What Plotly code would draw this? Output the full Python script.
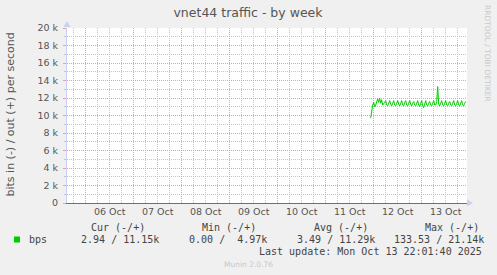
import plotly.graph_objects as go
import pandas as pd

# ---------------- data ----------------
series_name = "bps"
series_start = "2025-10-11 22:30"
series_step = "30min"
bps_out = [
    9700, 10600, 11200, 11500, 11000, 11200, 11600, 11900, 11500, 11950,
    11400, 11800, 11200, 11300, 11500, 11700, 11200, 11100, 11400, 11700,
    11300, 11100, 11400, 11700, 11200, 11100, 11400, 11700, 11300, 11100,
    11400, 11700, 11200, 11100, 11500, 11700, 11200, 11100, 11400, 11700,
    11300, 11100, 11400, 11600, 11200, 11100, 11400, 11700, 11200, 11000,
    11400, 11700, 11100, 10900, 11300, 11700, 11200, 11100, 11400, 11600,
    11200, 11100, 11400, 11700, 11200, 11200, 11600, 13300, 11300, 11100,
    11400, 11700, 11200, 11100, 11400, 11700, 11200, 11100, 11400, 11600,
    11200, 11100, 11400, 11700, 11200, 11100, 11400, 11700, 11200, 11100,
    11400, 11700, 11200, 11100, 11400, 11600,
]
x_range = ["2025-10-05 14:39", "2025-10-13 22:39"]
y_tickvals = [0, 2000, 4000, 6000, 8000, 10000, 12000, 14000, 16000, 18000, 20000]
y_ticktext = ["0", "2 k", "4 k", "6 k", "8 k", "10 k", "12 k", "14 k", "16 k", "18 k", "20 k"]
title_text = "vnet44 traffic - by week"
y_title = "bits in (-) / out (+) per second"
side_text = "RRDTOOL / TOBI OETIKER"
legend_headers = ["Cur (-/+)", "Min (-/+)", "Avg (-/+)", "Max (-/+)"]
legend_values = ["  2.94 / 11.15k", "  0.00 /  4.97k", "  3.49 / 11.29k", "133.53 / 21.14k"]
last_update = "Last update: Mon Oct 13 22:01:40 2025"
version_text = "Munin 2.0.76"

# ---------------- layout helpers ----------------
W, H = 497, 275
L, R, T, B = 67, 30, 28, 72
PW, PH = W - L - R, H - T - B


def px(x):
    return (x - L) / PW


def py(y):
    return (H - B - y) / PH


def nb(s):
    return s.replace(" ", "\u00a0")


times = pd.date_range(series_start, periods=len(bps_out), freq=series_step)

fig = go.Figure()
fig.add_trace(go.Scatter(
    x=times, y=bps_out, mode="lines",
    line=dict(color="#00cc00", width=1), showlegend=False, hoverinfo="skip",
))

grid_red = "#eaa0a0"
grid_grey = "#c4c4c4"
txt = "#555555"

fig.update_layout(
    width=W, height=H,
    margin=dict(l=L, r=R, t=T, b=B, pad=0),
    paper_bgcolor="#f0f0f0",
    plot_bgcolor="#ffffff",
    font=dict(family="DejaVu Sans", color=txt, size=9.5),
    title=dict(text=title_text, x=248 / W, xref="container", xanchor="center",
               y=1 - 13 / H, yref="container", yanchor="middle",
               font=dict(family="DejaVu Sans", size=12.5, color=txt)),
    xaxis=dict(
        type="date", range=x_range,
        tick0="2025-10-06 00:00", dtick=86400000,
        ticklabelmode="period", tickformat="%d %b",
        showgrid=True, gridcolor=grid_red, griddash="1px,1px", gridwidth=1,
        minor=dict(dtick=6 * 3600 * 1000, tick0="2025-10-06 00:00",
                   showgrid=True, gridcolor=grid_grey, griddash="1px,1px", gridwidth=1),
        showline=True, linecolor="#707080", linewidth=1,
        ticks="", zeroline=False,
        tickfont=dict(size=9.5, color=txt),
        fixedrange=True,
    ),
    yaxis=dict(
        range=[0, 20000],
        tickvals=y_tickvals, ticktext=y_ticktext,
        showgrid=True, gridcolor=grid_red, griddash="1px,1px", gridwidth=1,
        minor=dict(dtick=1000, tick0=0, showgrid=True, gridcolor=grid_grey,
                   griddash="1px,1px", gridwidth=1, ticks="outside", ticklen=2,
                   tickcolor=grid_grey),
        ticks="outside", ticklen=3, tickcolor=grid_red,
        showline=True, linecolor="#c8d0f4", linewidth=1,
        zeroline=False,
        tickfont=dict(size=9.5, color=txt),
        ticklabelstandoff=3,
        fixedrange=True,
    ),
)

ann = []
ann.append(dict(text=y_title, x=px(10), y=py(114.5), textangle=-90,
                font=dict(size=11, color=txt)))
ann.append(dict(text=side_text, x=px(487.5), y=py(53.5), textangle=90,
                font=dict(size=7.5, color="#c8c8c8")))
mono = dict(family="DejaVu Sans Mono", size=10, color="#444444")
header_x = [89, 200, 312.3, 422.7]
for hx, h in zip(header_x, legend_headers):
    ann.append(dict(text=nb(h), x=px(hx), y=py(227.7), xanchor="left", font=mono))
ann.append(dict(text=series_name, x=px(27), y=py(239.3), xanchor="left", font=mono))
value_x = [67, 175, 283, 391.5]
for vx, v in zip(value_x, legend_values):
    ann.append(dict(text=nb(v), x=px(vx), y=py(239.3), xanchor="left", font=mono))
ann.append(dict(text=nb(last_update), x=px(483.5), y=py(251), xanchor="right", font=mono))
ann.append(dict(text=version_text, x=px(248), y=py(264.3),
                font=dict(family="DejaVu Sans", size=7.5, color="#c8c8c8")))
for a in ann:
    a.setdefault("xanchor", "center")
    a.update(xref="paper", yref="paper", yanchor="middle", showarrow=False)
fig.update_layout(annotations=ann)

shapes = [
    dict(type="rect", xref="paper", yref="paper",
         x0=px(14), x1=px(20), y0=py(242.5), y1=py(236.5),
         fillcolor="#00cc00", line=dict(width=0)),
    dict(type="path", xref="paper", yref="paper",
         path=f"M {px(63.5)} {py(27)} L {px(70.5)} {py(27)} L {px(67)} {py(21)} Z",
         fillcolor="#c8d0f4", line=dict(width=0)),
    dict(type="path", xref="paper", yref="paper",
         path=f"M {px(467)} {py(199.5)} L {px(467)} {py(206.5)} L {px(473)} {py(203)} Z",
         fillcolor="#c8d0f4", line=dict(width=0)),
]
fig.update_layout(shapes=shapes)

fig.write_html("out.html", config={"displayModeBar": False})
